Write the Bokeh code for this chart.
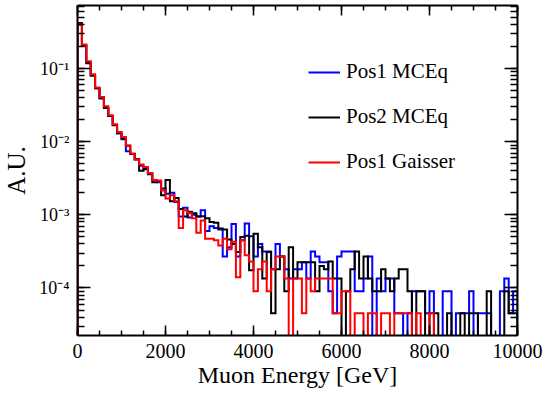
import numpy as np
from bokeh.plotting import figure
from bokeh.models import (Legend, LegendItem, LogAxis, LinearAxis, SingleIntervalTicker,
                          LogTicker, CustomJSTickFormatter, Range1d)
from bokeh.embed import file_html
from bokeh.resources import INLINE

# Histogram binning: 100 bins of 100 GeV between 0 and 10 TeV
E_MIN, E_MAX, N_BINS = 0.0, 10000.0, 100

# Normalised muon energy spectra (A.U.) per bin
pos1_mceq = [
    0.40, 0.21, 0.122, 0.082, 0.054, 0.039, 0.029, 0.0225, 0.0170, 0.0130,
    0.0108, 0.0074, 0.0068, 0.0058, 0.0047, 0.0042, 0.0037, 0.0030, 0.0028, 0.0023,
    0.00195, 0.0020, 0.0015, 0.00095, 0.00125, 0.00092, 0.0010, 0.00095, 0.00116, 0.00060,
    0.00070, 0.00066, 0.00063, 0.00027, 0.00036, 0.00075, 0.00027, 0.00045, 0.00076, 0.00051,
    0.00027, 0.00040, 0.000315, 0.000315, 0.00018, 0.00040, 0.00027, 0.00018, 0.000135, 0.00018,
    0.00018, 0.000225, 0.000135, 0.000315, 0.00027, 0.000225, 0.000225, 0.00009, 0.000045, 0.00027,
    0.000315, 0.000315, 0.000315, 0.00009, 0.00009, 0.000135, 0.00027, 0.0, 0.000135, 0.00009,
    0.000135, 0.000135, 0.000045, 0.000045, 0.0, 0.000045, 0.00009, 0.00009, 0.00009, 0.000045,
    0.00009, 0.0, 0.0, 0.00009, 0.00009, 0.0, 0.000045, 0.000045, 0.000045, 0.00009,
    0.0, 0.000045, 0.000045, 0.000045, 0.0, 0.0, 0.00009, 0.000135, 0.000045, 0.00009,
]

pos2_mceq = [
    0.42, 0.205, 0.118, 0.080, 0.054, 0.040, 0.029, 0.0225, 0.0168, 0.0132,
    0.0112, 0.0088, 0.0068, 0.0057, 0.0040, 0.0043, 0.0036, 0.0028, 0.0029, 0.00185,
    0.0030, 0.00154, 0.0017, 0.0012, 0.00095, 0.0011, 0.00105, 0.00095, 0.00096, 0.00090,
    0.00080, 0.00078, 0.00065, 0.00063, 0.00046, 0.00040, 0.00031, 0.00050, 0.00052, 0.000175,
    0.00055, 0.00036, 0.000135, 0.00031, 0.000045, 0.00018, 0.00027, 0.00009, 0.00036, 0.000135,
    0.000225, 0.000225, 0.000225, 0.000225, 0.00009, 0.0002, 0.00018, 0.00023, 0.000135, 0.000135,
    0.0, 0.00009, 0.00018, 0.000315, 0.000135, 0.00027, 0.000135, 0.00009, 0.00009, 0.00018,
    0.000135, 0.00009, 0.000135, 0.00018, 0.00018, 0.00009, 0.0, 0.00009, 0.00009, 0.0,
    0.000045, 0.000045, 0.0, 0.0, 0.000045, 0.0, 0.0, 0.000045, 0.0, 0.000045,
    0.000045, 0.0, 0.0, 0.00009, 0.0, 0.0, 0.0, 0.00009, 0.000045, 0.000045,
]

pos1_gaisser = [
    0.40, 0.213, 0.126, 0.0836, 0.055, 0.0408, 0.0305, 0.0230, 0.0173, 0.0136,
    0.0116, 0.0089, 0.0069, 0.0057, 0.0049, 0.0045, 0.0037, 0.0030, 0.00295, 0.00216,
    0.00168, 0.00185, 0.00154, 0.00066, 0.00116, 0.00105, 0.00090, 0.00057, 0.00084, 0.00047,
    0.00047, 0.00045, 0.00038, 0.00047, 0.00034, 0.00043, 0.00014, 0.00045, 0.00028, 0.00023,
    0.00009, 0.00018, 0.00023, 0.00009, 0.00018, 0.00027, 0.00027, 0.000135, 0.0, 0.000135,
    0.000135, 0.000045, 0.000135, 0.00009, 0.000135, 0.000135, 0.000135, 0.000135, 0.000045, 0.000045,
    0.00009, 0.00009, 0.0, 0.000045, 0.000045, 0.0, 0.000045, 0.000045, 0.0, 0.000045,
    0.000045, 0.0, 0.000045, 0.000045, 0.000045, 0.000045, 0.0, 0.000045, 0.0, 0.0,
    0.000045, 0.0, 0.0, 0.0, 0.0, 0.0, 0.0, 0.0, 0.0, 0.0,
    0.0, 0.0, 0.0, 0.0, 0.0, 0.0, 0.0, 0.0, 0.0, 0.0,
]

series = [
    ("Pos1 MCEq", pos1_mceq, "#0000ff"),
    ("Pos2 MCEq", pos2_mceq, "#000000"),
    ("Pos1 Gaisser", pos1_gaisser, "#ff0000"),
]

Y_MIN, Y_MAX = 2.24e-5, 0.73
FONT = "Liberation Serif"

edges = np.linspace(E_MIN, E_MAX, N_BINS + 1)


def hist_outline(values):
    """Step outline of a histogram; empty bins fall to the bottom of the frame."""
    v = np.asarray(values, dtype=float)
    v = np.where(v > 0, v, Y_MIN * 0.5)
    xs = np.repeat(edges, 2)
    ys = np.concatenate([[Y_MIN * 0.5], np.repeat(v, 2), [Y_MIN * 0.5]])
    return xs, ys


p = figure(width=545, height=394, y_axis_type="log",
           x_range=Range1d(E_MIN, E_MAX), y_range=Range1d(Y_MIN, Y_MAX),
           output_backend="svg", toolbar_location=None,
           min_border_left=76, min_border_right=28, min_border_top=5, min_border_bottom=59)
p.background_fill_color = "white"
p.border_fill_color = "white"
p.outline_line_color = None
p.xgrid.visible = False
p.ygrid.visible = False

renderers = []
for name, vals, color in series:
    xs, ys = hist_outline(vals)
    r = p.line(xs, ys, line_color=color, line_width=2, line_join="miter")
    renderers.append((name, r))

sup_code = """
const e = Math.round(Math.log10(tick));
const sup = {"-": "\u207b", "0": "\u2070", "1": "\u00b9", "2": "\u00b2", "3": "\u00b3",
             "4": "\u2074", "5": "\u2075", "6": "\u2076", "7": "\u2077", "8": "\u2078", "9": "\u2079"};
return "10" + String(e).split("").map(c => sup[c]).join("");
"""
blank = CustomJSTickFormatter(code="return '';")

x_ticker = SingleIntervalTicker(interval=2000, num_minor_ticks=4)
y_ticker = LogTicker(num_minor_ticks=10)


def style_axis(ax):
    ax.axis_line_width = 2
    ax.axis_line_color = "black"
    ax.major_tick_line_width = 1.5
    ax.minor_tick_line_width = 1.5
    ax.major_tick_out = 0
    ax.minor_tick_out = 0
    ax.major_label_text_font = FONT
    ax.major_label_text_color = "black"
    ax.axis_label_text_font = FONT
    ax.axis_label_text_font_style = "normal"
    ax.axis_label_text_color = "black"


xb = p.xaxis[0]
xb.ticker = x_ticker
style_axis(xb)
xb.major_tick_in = 10
xb.minor_tick_in = 5
xb.major_label_text_font_size = "20px"
xb.major_label_standoff = 8
xb.axis_label = "Muon Energy [GeV]"
xb.axis_label_text_font_size = "24px"
xb.axis_label_standoff = 1

yl = p.yaxis[0]
yl.ticker = y_ticker
yl.formatter = CustomJSTickFormatter(code=sup_code)
style_axis(yl)
yl.major_tick_in = 13
yl.minor_tick_in = 7
yl.major_label_text_font_size = "18px"
yl.major_label_standoff = 8
yl.axis_label = "A.U."
yl.axis_label_text_font_size = "25px"
yl.axis_label_standoff = 6

xt = LinearAxis(ticker=x_ticker, formatter=blank)
style_axis(xt)
xt.major_tick_in = 10
xt.minor_tick_in = 5
xt.major_label_standoff = 0
p.add_layout(xt, "above")

yr = LogAxis(ticker=y_ticker, formatter=blank)
style_axis(yr)
yr.major_tick_in = 13
yr.minor_tick_in = 7
yr.major_label_standoff = 0
p.add_layout(yr, "right")

legend = Legend(items=[LegendItem(label=n, renderers=[r]) for n, r in renderers],
                location=(231, 161))
legend.border_line_color = None
legend.background_fill_alpha = 0
legend.label_text_font = FONT
legend.label_text_font_size = "21px"
legend.label_text_color = "black"
legend.glyph_width = 32
legend.glyph_height = 24
legend.label_height = 24
legend.spacing = 20
legend.padding = 0
legend.margin = 0
legend.label_standoff = 6
p.add_layout(legend)

open("out.html", "w").write(file_html(p, INLINE))
